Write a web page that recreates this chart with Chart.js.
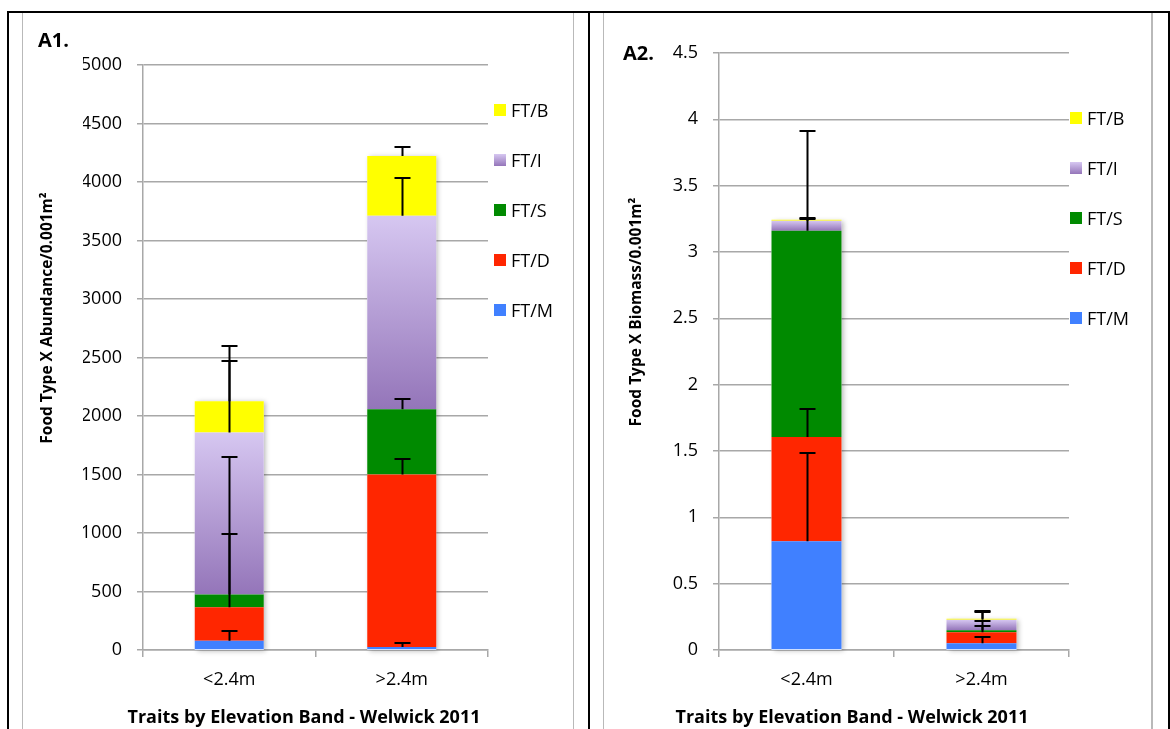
<!DOCTYPE html>
<html>
<head>
<meta charset="utf-8">
<script src="https://cdn.jsdelivr.net/npm/chart.js@4/dist/chart.umd.min.js"></script>
<style>
  html, body { margin: 0; padding: 0; background: #fff; }
  body { width: 1170px; height: 729px; position: relative; overflow: hidden; font-family: "Open Sans", "Liberation Sans", sans-serif; color: #000; }
  .line { position: absolute; }
  .blk { background: #000; }
  .gry { background: #b9b9b9; }
  canvas { position: absolute; top: 0; }
  .panel-label { position: absolute; font-weight: bold; font-size: 20px; line-height: 1; transform: translateY(-50%); }
  .ytitle { position: absolute; font-weight: bold; font-size: 15.5px; white-space: nowrap; transform: translate(-50%, -50%) rotate(-90deg); line-height: 1; }
  .xtitle { position: absolute; font-weight: bold; font-size: 18px; white-space: nowrap; transform: translate(-50%, -50%); line-height: 1; }
  .legend-item { position: absolute; display: flex; align-items: center; font-size: 18px; line-height: 1; transform: translateY(-50%); white-space: nowrap; }
  .legend-item .sw { width: 12px; height: 12px; margin-right: 5px; }
</style>
</head>
<body>
<!-- table frame -->
<div class="line blk" style="left:7px; top:11px; width:1163px; height:2px;"></div>
<div class="line blk" style="left:7px; top:11px; width:2px; height:718px;"></div>
<div class="line blk" style="left:588px; top:11px; width:2px; height:718px;"></div>
<div class="line blk" style="left:1168px; top:11px; width:2px; height:718px;"></div>
<!-- chart frames -->
<div class="line gry" style="left:22px; top:13px; width:1px; height:716px;"></div>
<div class="line gry" style="left:573px; top:13px; width:1px; height:716px;"></div>
<div class="line gry" style="left:603px; top:13px; width:1px; height:716px;"></div>
<div class="line gry" style="left:1151px; top:13px; width:2px; height:716px;"></div>

<canvas id="abundance" width="580" height="729" style="left:0px;"></canvas>
<canvas id="biomass" width="580" height="729" style="left:590px;"></canvas>

<div class="panel-label" style="left:38px; top:40px;">A1.</div>
<div class="panel-label" style="left:623px; top:53px;">A2.</div>

<div class="ytitle" style="left:47px; top:318px;">Food Type X Abundance/0.001m²</div>
<div class="ytitle" style="left:636px; top:312px;">Food Type X Biomass/0.001m²</div>

<div class="xtitle" style="left:304px; top:716px;">Traits by Elevation Band - Welwick 2011</div>
<div class="xtitle" style="left:852px; top:716px;">Traits by Elevation Band - Welwick 2011</div>

<div id="legendA"></div>
<div id="legendB"></div>

<script>
// Elevation bands on the x axis
const categories = ['<2.4m', '>2.4m'];

// Food types, bottom of the stack first
const seriesNames = ['FT/M', 'FT/D', 'FT/S', 'FT/I', 'FT/B'];

// A1: abundance per 0.001 m²
const abundanceM = [80, 26];
const abundanceD = [286, 1475];
const abundanceS = [109, 556];
const abundanceI = [1383, 1654];
const abundanceB = [268, 511];
// A1: upper error bars
const abundanceErrM = [86, 36];
const abundanceErrD = [622, 135];
const abundanceErrS = [1174, 92];
const abundanceErrI = [613, 320];
const abundanceErrB = [473, 80];

// A2: biomass per 0.001 m²
const biomassM = [0.82, 0.051];
const biomassD = [0.786, 0.083];
const biomassS = [1.555, 0.015];
const biomassI = [0.075, 0.079];
const biomassB = [0.008, 0.007];
// A2: upper error bars
const biomassErrM = [0.662, 0.046];
const biomassErrD = [0.209, 0.046];
const biomassErrS = [0.752, 0.066];
const biomassErrI = [0.014, 0.065];
const biomassErrB = [0.012, 0.055];

// Tick labels
const abundanceTicks = ['0', '500', '1000', '1500', '2000', '2500', '3000', '3500', '4000', '4500', '5000'];
const biomassTicks = ['0', '0.5', '1', '1.5', '2', '2.5', '3', '3.5', '4', '4.5'];

const COLORS = {
  'FT/M': '#4080ff',
  'FT/D': '#ff2600',
  'FT/S': '#008a00',
  'FT/I': null,          // gradient fill
  'FT/B': '#ffff00'
};
const LAVENDER_TOP = '#d6c7f1';
const LAVENDER_BOTTOM = '#9475b9';
const GRID = '#a8a8a8';
const FONT = '"Open Sans", "Liberation Sans", sans-serif';

// Fill for one stacked segment: flat colour, or a vertical gradient for FT/I
function segmentFill(name, seriesList) {
  if (COLORS[name]) return COLORS[name];
  return (ctx) => {
    const chart = ctx.chart;
    const y = chart.scales && chart.scales.y;
    if (!y || ctx.dataIndex === undefined || !chart.chartArea) return LAVENDER_BOTTOM;
    const di = ctx.datasetIndex, i = ctx.dataIndex;
    let base = 0;
    for (let k = 0; k < di; k++) base += seriesList[k][i];
    const top = base + seriesList[di][i];
    const y0 = y.getPixelForValue(top), y1 = y.getPixelForValue(base);
    if (!isFinite(y0) || !isFinite(y1) || y0 === y1) return LAVENDER_BOTTOM;
    const g = chart.ctx.createLinearGradient(0, y0, 0, y1);
    g.addColorStop(0, LAVENDER_TOP);
    g.addColorStop(1, LAVENDER_BOTTOM);
    return g;
  };
}

// Soft shadow behind each stack, and upper error bars on top of the segments
const stackDecor = {
  id: 'stackDecor',
  beforeDatasetsDraw(chart, args, opts) {
    const ctx = chart.ctx, y = chart.scales.y;
    const metas = chart.getSortedVisibleDatasetMetas();
    if (!metas.length) return;
    const first = metas[0].data;
    ctx.save();
    ctx.shadowColor = 'rgba(0,0,0,0.28)';
    ctx.shadowBlur = 5;
    ctx.shadowOffsetX = 2;
    ctx.shadowOffsetY = 1;
    ctx.fillStyle = '#ffffff';
    first.forEach((bar, i) => {
      let total = 0;
      opts.series.forEach(s => total += s[i]);
      const top = y.getPixelForValue(total), bottom = y.getPixelForValue(0);
      ctx.fillRect(bar.x - bar.width / 2, top, bar.width, bottom - top);
    });
    ctx.restore();
  },
  afterDatasetsDraw(chart, args, opts) {
    const ctx = chart.ctx, y = chart.scales.y;
    ctx.save();
    ctx.strokeStyle = '#000';
    ctx.lineWidth = 2;
    const cap = 8;
    opts.series.forEach((s, di) => {
      const meta = chart.getDatasetMeta(di);
      meta.data.forEach((bar, i) => {
        let top = 0;
        for (let k = 0; k <= di; k++) top += opts.series[k][i];
        const err = opts.errors[di][i];
        const x = Math.round(bar.x) + 0.5;
        const y0 = y.getPixelForValue(top);
        const y1 = Math.round(y.getPixelForValue(top + err));
        ctx.beginPath();
        ctx.moveTo(x, y0);
        ctx.lineTo(x, y1);
        ctx.moveTo(x - cap, y1);
        ctx.lineTo(x + cap, y1);
        ctx.stroke();
      });
    });
    ctx.restore();
  }
};

function buildChart(canvasId, series, errors, yMax, yStep, tickLabels, pad) {
  const datasets = seriesNames.map((name, k) => ({
    label: name,
    data: series[k],
    backgroundColor: segmentFill(name, series),
    borderWidth: 0,
    barPercentage: 0.4,
    categoryPercentage: 1.0
  }));
  return new Chart(document.getElementById(canvasId), {
    type: 'bar',
    data: { labels: categories, datasets },
    plugins: [stackDecor],
    options: {
      responsive: false,
      animation: false,
      devicePixelRatio: 1,
      layout: { padding: pad },
      plugins: {
        legend: { display: false },
        tooltip: { enabled: false },
        stackDecor: { series, errors }
      },
      scales: {
        x: {
          stacked: true,
          grid: { display: true, drawOnChartArea: false, drawTicks: true, tickLength: 7, color: GRID, lineWidth: 1.5, offset: true },
          border: { display: true, color: GRID, width: 1.5 },
          ticks: { color: '#000', font: { family: FONT, size: 18 }, padding: 12, maxRotation: 0 },
          afterFit: (s) => { s.height = 45; }
        },
        y: {
          stacked: true,
          min: 0,
          max: yMax,
          grid: { color: GRID, lineWidth: 1.5, tickLength: 6, drawTicks: true },
          border: { display: true, color: GRID, width: 1.5 },
          ticks: {
            stepSize: yStep,
            color: '#000',
            font: { family: FONT, size: 18 },
            padding: 15,
            callback: (v, i) => tickLabels[i]
          },
          afterFit: (s) => { s.width = 60; }
        }
      }
    }
  });
}

buildChart('abundance',
  [abundanceM, abundanceD, abundanceS, abundanceI, abundanceB],
  [abundanceErrM, abundanceErrD, abundanceErrS, abundanceErrI, abundanceErrB],
  5000, 500, abundanceTicks,
  { left: 83, right: 92, top: 65, bottom: 34 });

buildChart('biomass',
  [biomassM, biomassD, biomassS, biomassI, biomassB],
  [biomassErrM, biomassErrD, biomassErrS, biomassErrI, biomassErrB],
  4.5, 0.5, biomassTicks,
  { left: 69, right: 101, top: 53, bottom: 34 });

// Legends: top of stack listed first
function buildLegend(containerId, left, firstY, gap) {
  const box = document.getElementById(containerId);
  seriesNames.slice().reverse().forEach((name, n) => {
    const item = document.createElement('div');
    item.className = 'legend-item';
    item.style.left = left + 'px';
    item.style.top = (firstY + n * gap) + 'px';
    const sw = document.createElement('span');
    sw.className = 'sw';
    sw.style.background = COLORS[name] || ('linear-gradient(' + LAVENDER_TOP + ', ' + LAVENDER_BOTTOM + ')');
    const tx = document.createElement('span');
    tx.textContent = name;
    item.appendChild(sw);
    item.appendChild(tx);
    box.appendChild(item);
  });
}
buildLegend('legendA', 494, 110, 50);
buildLegend('legendB', 1070, 118, 50);
</script>
</body>
</html>
